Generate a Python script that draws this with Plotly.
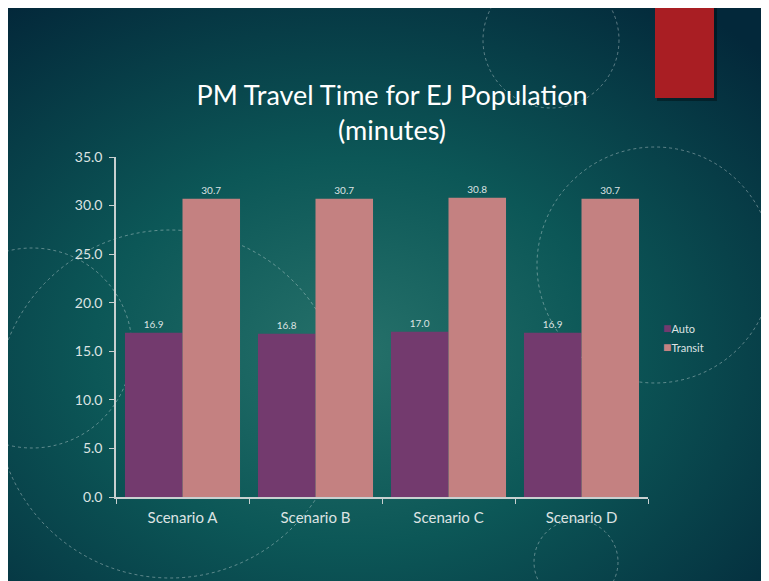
import base64
import plotly.graph_objects as go

scenarios = ["Scenario A", "Scenario B", "Scenario C", "Scenario D"]
auto_minutes = [16.9, 16.8, 17.0, 16.9]
transit_minutes = [30.7, 30.7, 30.8, 30.7]

# the page adds an 8px body margin, so the figure is a bit smaller than the window
OFF = 8
W, H = 769 - OFF, 581 - OFF
PLOT_L, PLOT_R, PLOT_T, PLOT_B = 116, 648, 157, 497  # page pixels
AXIS_GREY = "#c8d0d0"
TEXT_GREY = "#dde3e3"
AUTO_COLOR = "#733a6e"
TRANSIT_COLOR = "#c48181"


def px_x(px):
    return (px - PLOT_L) / (PLOT_R - PLOT_L)


def px_y(py):
    return (PLOT_B - py) / (PLOT_B - PLOT_T)


# slide background: radial teal gradient
bg_svg = """<svg xmlns='http://www.w3.org/2000/svg' width='761' height='573' viewBox='0 0 761 573' preserveAspectRatio='none'>
<defs><radialGradient id='g' cx='0.45' cy='0.6' r='0.75'>
<stop offset='0' stop-color='#26716a'/>
<stop offset='0.45' stop-color='#0c5757'/>
<stop offset='1' stop-color='#03283a'/>
</radialGradient></defs>
<rect width='761' height='573' fill='url(#g)'/>
</svg>"""
bg_src = "data:image/svg+xml;base64," + base64.b64encode(bg_svg.encode()).decode()

fig = go.Figure()
fig.add_trace(go.Bar(
    x=scenarios, y=auto_minutes, name="Auto",
    marker=dict(color=AUTO_COLOR, line=dict(width=0)),
    texttemplate="%{y:.1f}", textposition="outside",
    textfont=dict(size=10, color=TEXT_GREY), cliponaxis=False,
))
fig.add_trace(go.Bar(
    x=scenarios, y=transit_minutes, name="Transit",
    marker=dict(color=TRANSIT_COLOR, line=dict(width=0)),
    texttemplate="%{y:.1f}", textposition="outside",
    textfont=dict(size=10, color=TEXT_GREY), cliponaxis=False,
))

# decorative circles (cx, cy, r in page pixels)
circles = [(551, 40, 68), (655, 265, 118), (170, 404, 174), (32, 348, 100), (576, 562, 42)]
for cx, cy, r in circles:
    fig.add_shape(type="circle", xref="paper", yref="paper", layer="below",
                  x0=px_x(cx - r), x1=px_x(cx + r), y0=px_y(cy + r), y1=px_y(cy - r),
                  line=dict(color="rgba(255,255,255,0.5)", width=0.7, dash="dot"))

# red accent block with soft shadow
fig.add_shape(type="rect", xref="paper", yref="paper", layer="above",
              x0=px_x(657), x1=px_x(717), y0=px_y(101), y1=px_y(0),
              fillcolor="rgba(0,0,0,0.35)", line=dict(width=0))
fig.add_shape(type="rect", xref="paper", yref="paper", layer="above",
              x0=px_x(655), x1=px_x(714), y0=px_y(98), y1=px_y(0),
              fillcolor="#a91e23", line=dict(width=0))

# legend drawn as text next to the plot
legend_items = [("Auto", AUTO_COLOR, 327), ("Transit", TRANSIT_COLOR, 346)]
for name, color, ypx in legend_items:
    fig.add_annotation(xref="paper", yref="paper", x=px_x(661), y=px_y(ypx),
                       xanchor="left", yanchor="middle", showarrow=False,
                       text=f"<span style='color:{color};font-size:14px'>■</span>{name}",
                       font=dict(size=11, color=TEXT_GREY))

fig.update_layout(
    width=W, height=H,
    margin=dict(l=PLOT_L - OFF, r=W - (PLOT_R - OFF), t=PLOT_T - OFF, b=H - (PLOT_B - OFF),
                autoexpand=False),
    paper_bgcolor="white",
    plot_bgcolor="rgba(0,0,0,0)",
    font=dict(family="Lato, sans-serif", color=TEXT_GREY),
    images=[dict(source=bg_src, xref="paper", yref="paper",
                 x=px_x(OFF), y=px_y(OFF), sizex=px_x(769) - px_x(OFF), sizey=px_y(OFF) - px_y(581),
                 xanchor="left", yanchor="top", sizing="stretch", layer="below")],
    title=dict(text="PM Travel Time for EJ Population<br>(minutes)",
               font=dict(family="Lato, sans-serif", size=27, color="white"),
               x=(392 - OFF) / W, xanchor="center",
               y=1 - (105 - OFF) / H, yanchor="top"),
    barmode="group", bargap=0.135, bargroupgap=0,
    showlegend=False,
    xaxis=dict(showline=True, linecolor=AXIS_GREY, linewidth=1.5,
               ticks="outside", tickson="boundaries", ticklen=5, tickcolor=AXIS_GREY,
               ticklabelstandoff=6,
               tickfont=dict(size=15, color=TEXT_GREY), showgrid=False),
    yaxis=dict(range=[0, 35], dtick=5, tickformat=".1f", showline=True,
               linecolor=AXIS_GREY, linewidth=1.5, ticks="outside", ticklen=5,
               tickcolor=AXIS_GREY, ticklabelstandoff=4,
               tickfont=dict(size=14, color=TEXT_GREY),
               showgrid=False, zeroline=False),
)

fig.write_html("out.html")
